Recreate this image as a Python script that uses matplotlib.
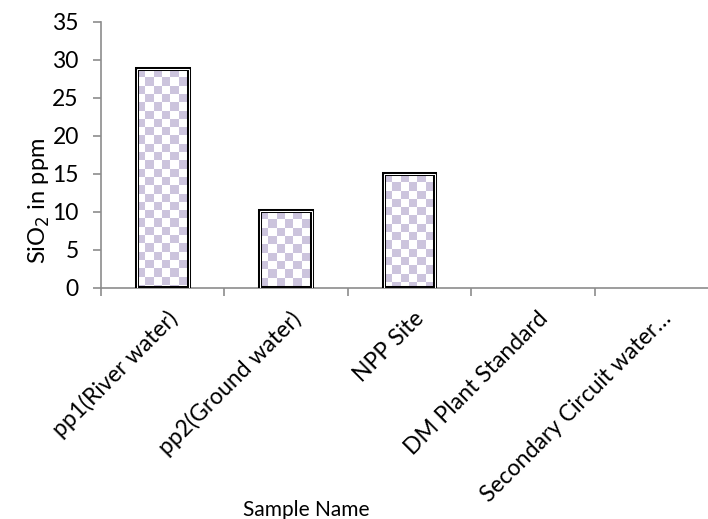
import numpy as np
import matplotlib
matplotlib.use("Agg")
import matplotlib.pyplot as plt
from matplotlib.ticker import FixedLocator
from matplotlib.transforms import ScaledTranslation

categories = ["pp1(River water)", "pp2(Ground water)", "NPP Site",
              "DM Plant Standard", "Secondary Circuit water…"]
values = [28.8, 10.1, 15.0, 0, 0]
yticks = [0, 5, 10, 15, 20, 25, 30, 35]

plt.rcParams['font.family'] = ['Lato', 'DejaVu Sans']

fig = plt.figure(figsize=(7.08, 5.19), dpi=100)
ax = fig.add_axes([101/708, 1-288/519, 617/708, 266/519])

x = np.arange(len(categories)) + 0.5
width = 0.42
light = np.array([0.80, 0.77, 0.87])
cell_px = 8.3
ppx = 617 / len(categories)  # pixels per x unit
ppy = 266 / 35

bars = ax.bar(x, values, width=width, facecolor='none', edgecolor='black',
              linewidth=2.9, zorder=3)
bars2 = ax.bar(x, values, width=width, facecolor='none', edgecolor='white',
               linewidth=0.75, zorder=4)
for b, v in zip(bars, values):
    if v <= 0:
        continue
    x0 = b.get_x()
    nx = int(np.ceil(width*ppx/cell_px))
    ny = int(np.ceil(v*ppy/cell_px))
    ii, jj = np.meshgrid(np.arange(nx), np.arange(ny))
    chk = ((ii + jj) % 2 == 0)
    img = np.ones((ny, nx, 3))
    img[chk] = light
    im = ax.imshow(img, extent=[x0, x0 + nx*cell_px/ppx, v - ny*cell_px/ppy, v],
                   origin='upper', aspect='auto', interpolation='nearest', zorder=2)
    im.set_clip_path(b)
for b, v in zip(list(bars) + list(bars2), values + values):
    if v <= 0:
        b.set_visible(False)

ax.set_xlim(0, len(categories))
ax.set_ylim(0, 35)
ax.set_yticks(yticks)
ax.tick_params(axis='y', labelsize=16.5, length=6, color='#8c8c8c', width=1.2, pad=10)
ax.xaxis.set_major_locator(FixedLocator(np.arange(len(categories)+1)))
ax.xaxis.set_major_formatter(plt.NullFormatter())
ax.xaxis.set_minor_locator(FixedLocator(x))
ax.set_xticklabels(categories, minor=True, rotation=45, ha='right', va='top',
                   rotation_mode='anchor', fontsize=16.5)
ax.tick_params(axis='x', which='major', length=6, color='#8c8c8c', width=1.2)
ax.tick_params(axis='x', which='minor', length=0, pad=14)
for lbl in ax.get_xticklabels(minor=True):
    lbl.set_transform(lbl.get_transform() + ScaledTranslation(4/100, 0, fig.dpi_scale_trans))
for s in ['top', 'right']:
    ax.spines[s].set_visible(False)
for s in ['left', 'bottom']:
    ax.spines[s].set_color('#8c8c8c')
    ax.spines[s].set_linewidth(1.2)

fig.text(39/708, 1-201/519, "SiO$_2$ in ppm", rotation=90, ha='center', va='center',
         fontsize=17)
fig.text(306/708, 1-510/519, "Sample Name", ha='center', va='center', fontsize=15)

fig.savefig("out.png", dpi=100)
